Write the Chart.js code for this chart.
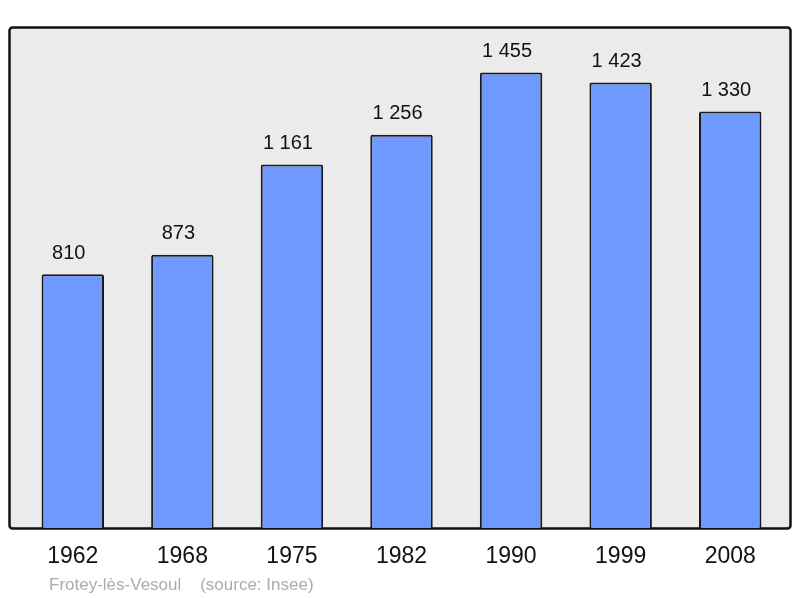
<!DOCTYPE html>
<html>
<head>
<meta charset="utf-8">
<script src="https://cdn.jsdelivr.net/npm/chart.js@4/dist/chart.umd.min.js"></script>
<style>
  html, body { margin: 0; padding: 0; background: #fff; }
  #wrap { width: 800px; height: 598px; position: relative; }
</style>
</head>
<body>
<div id="wrap"><canvas id="chart" width="800" height="598"></canvas></div>
<script>
const years = ['1962', '1968', '1975', '1982', '1990', '1999', '2008'];
const population = [810, 873, 1161, 1256, 1455, 1423, 1330];
const footerText = 'Frotey-lès-Vesoul    (source: Insee)';

const fmt = (v) => String(v).replace(/\B(?=(\d{3})+(?!\d))/g, ' ');

// gray panel with black frame behind the bars
const panelPlugin = {
    id: 'panel',
    beforeDraw(chart) {
        const ctx = chart.ctx;
        ctx.save();
        ctx.fillStyle = '#ebebeb';
        ctx.strokeStyle = '#111';
        ctx.lineWidth = 2.5;
        ctx.beginPath();
        ctx.roundRect(9.5, 27.5, 781, 501, 3);
        ctx.fill();
        ctx.stroke();
        ctx.restore();
    },
    afterDraw(chart) {
        const ctx = chart.ctx;
        const x = chart.scales.x;
        const y = chart.scales.y;
        ctx.save();
        ctx.textAlign = 'center';
        ctx.textBaseline = 'middle';
        ctx.fillStyle = '#111';
        // value labels above bars (sit a little left of centre in the original)
        ctx.font = '20px "Liberation Sans", Arial, sans-serif';
        population.forEach((v, i) => {
            ctx.fillText(fmt(v), x.getPixelForValue(i) - 4, y.getPixelForValue(v) - 21);
        });
        // year labels under the frame
        ctx.font = '23px "Liberation Sans", Arial, sans-serif';
        years.forEach((yr, i) => {
            ctx.fillText(yr, x.getPixelForValue(i), 557);
        });
        // footer
        ctx.textAlign = 'left';
        ctx.fillStyle = '#acacac';
        ctx.font = '17px "Liberation Sans", Arial, sans-serif';
        ctx.fillText(footerText, 49, 585);
        ctx.restore();
    }
};

new Chart(document.getElementById('chart'), {
    type: 'bar',
    data: {
        labels: years,
        datasets: [{
            data: population,
            backgroundColor: '#7099ff',
            borderColor: '#1a1a1a',
            borderWidth: 2,
            borderRadius: 2,
            borderSkipped: 'bottom',
            barPercentage: 0.57,
            categoryPercentage: 1,
        }],
    },
    options: {
        responsive: false,
        animation: false,
        layout: {
            padding: { left: 18, right: 15, top: 27, bottom: 70 },
        },
        plugins: {
            legend: { display: false },
            tooltip: { enabled: false },
        },
        scales: {
            x: { display: false },
            y: { display: false, min: 0, max: 1600 },
        },
    },
    plugins: [panelPlugin],
});
</script>
</body>
</html>
